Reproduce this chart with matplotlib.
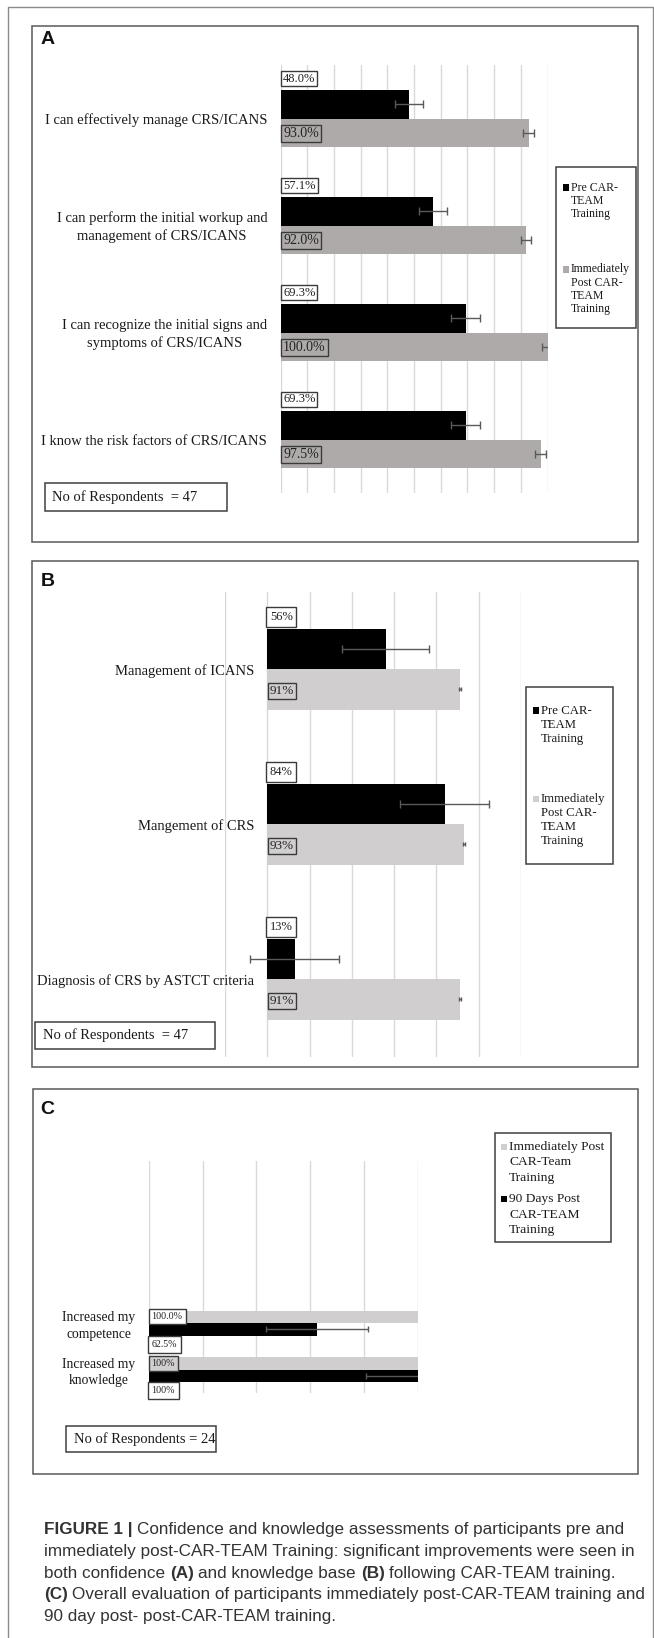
import matplotlib.pyplot as plt
from matplotlib.patches import Rectangle
import numpy as np

# Figure size in pixels (dpi 100)
W, H = 654, 1638

SERIF = ["Liberation Serif", "DejaVu Serif"]
SANS = ["Liberation Sans", "DejaVu Sans"]

BLACK = "#000000"
GRAY_A = "#AEAAAA"
GRAY_B = "#D0CECE"
ERR = "#595959"
EDGE = "#3a3a3a"
INK = "#1a1a1a"

# Panel A: confidence
a_items = ["I can effectively manage CRS/ICANS",
           "I can perform the initial workup and\nmanagement of CRS/ICANS",
           "I can recognize the initial signs and\nsymptoms of CRS/ICANS",
           "I know the risk factors of CRS/ICANS"]
a_pre = [48.0, 57.1, 69.3, 69.3]
a_pre_err = [5.3, 5.4, 5.5, 5.5]
a_post = [93.0, 92.0, 100.0, 97.5]
a_post_err = [2.0, 2.0, 2.0, 2.0]

# Panel B: knowledge
b_items = ["Management of ICANS", "Mangement of CRS",
           "Diagnosis of CRS by ASTCT criteria"]
b_pre = [56, 84, 13]
b_pre_err = [20.7, 21.0, 21.0]
b_post = [91, 93, 91]
b_post_err = [0.5, 0.5, 0.5]

# Panel C: overall evaluation
c_items = ["Increased my\ncompetence", "Increased my\nknowledge"]
c_post = [100.0, 100.0]
c_post_text = ["100.0%", "100%"]
c_90 = [62.5, 100.0]
c_90_err = [19.0, 19.0]
c_90_text = ["62.5%", "100%"]

legend_a = ["Pre CAR-\nTEAM\nTraining", "Immediately\nPost CAR-\nTEAM\nTraining"]
legend_c = ["Immediately Post\nCAR-Team\nTraining", "90 Days Post\nCAR-TEAM\nTraining"]

fig = plt.figure(figsize=(W / 100, H / 100), dpi=100)

# full-figure overlay in pixel units for frames, legends and caption
ov = fig.add_axes([0, 0, 1, 1], zorder=5)
ov.set_xlim(0, W)
ov.set_ylim(H, 0)
ov.axis("off")


def px_axes(x0, y0, x1, y1):
    ax = fig.add_axes([x0 / W, 1 - y1 / H, (x1 - x0) / W, (y1 - y0) / H])
    ax.patch.set_alpha(0)
    for s in ax.spines.values():
        s.set_visible(False)
    ax.tick_params(length=0, labelbottom=False, labelleft=False)
    ax.set_yticks([])
    ax.xaxis.grid(True, color="#d9d9d9", lw=1)
    ax.set_axisbelow(True)
    return ax


def tag(ax, y, text, dy, size, fc, pad=0.15):
    ax.annotate(text, xy=(0, y), xytext=(2.5, dy), textcoords="offset pixels",
                ha="left", va="center", fontsize=size, family=SERIF, color="#222222",
                bbox=dict(boxstyle=f"square,pad={pad}", fc=fc, ec=EDGE, lw=1),
                annotation_clip=False, zorder=4)


def item_label(ax, y, text, size, dx=-13.5, spacing=1.4, dy=-2):
    ax.annotate(text, xy=(0, y), xytext=(dx, dy), textcoords="offset pixels",
                ha="right", va="center", multialignment="center", fontsize=size,
                linespacing=spacing, family=SERIF, color=INK, annotation_clip=False)


def frame(x0, y0, x1, y1, lw=1.1, ec="#595959", fc="none"):
    ov.add_patch(Rectangle((x0, y0), x1 - x0, y1 - y0, fc=fc, ec=ec, lw=lw))


def legend_box(x0, y0, x1, y1, entries, size, step, sq):
    frame(x0, y0, x1, y1, lw=1.1, ec="#404040", fc="white")
    for color, label, ty in entries:
        ov.add_patch(Rectangle((x0 + 6.5, ty - sq / 2), sq, sq, fc=color, ec="none"))
        for k, line in enumerate(label.split("\n")):
            ov.text(x0 + 8.5 + sq, ty + k * step, line, fontsize=size, family=SERIF,
                    color=INK, ha="left", va="center")


def count_box(x0, y0, x1, y1, text, size):
    frame(x0, y0, x1, y1, lw=1.1, ec="#404040", fc="white")
    ov.text(x0 + 8, (y0 + y1) / 2, text, fontsize=size, family=SERIF, color=INK,
            ha="left", va="center")


def panel_letter(x, y, s):
    ov.text(x, y, s, fontsize=14, family=SANS, weight="bold", color="#111111",
            ha="left", va="center")


# outer frame
ov.plot([7.5, 7.5, 652.5, 652.5], [H, 7, 7, H], color="#8a8a8a", lw=1)

# ---------------- Panel A ----------------
frame(32, 26, 638, 541.5)
panel_letter(41, 39, "A")
ax = px_axes(280.7, 65, 547.5, 493)
ax.set_xlim(0, 100)
ax.set_ylim(3.5, -0.5)
ax.set_xticks(np.arange(0, 101, 10))
ya = np.arange(len(a_items))
h = 0.266
ax.barh(ya - h / 2, a_pre, height=h, color=BLACK)
ax.barh(ya + h / 2, a_post, height=h, color=GRAY_A)
ax.errorbar(a_pre, ya - h / 2, xerr=a_pre_err, fmt="none", ecolor=ERR,
            elinewidth=1, capsize=2.8, capthick=1)
ax.errorbar(a_post, ya + h / 2, xerr=a_post_err, fmt="none", ecolor=ERR,
            elinewidth=1, capsize=2.8, capthick=1)
for i in ya:
    tag(ax, i, f"{a_pre[i]:.1f}%", 40, 9, "white")
    tag(ax, i, f"{a_post[i]:.1f}%", -14.8, 10, GRAY_A)
    item_label(ax, i, a_items[i], 10.5)
legend_box(556, 167, 636, 328,
           [(BLACK, legend_a[0], 187.7), (GRAY_A, legend_a[1], 269.3)],
           8.5, 13.3, 6.5)
count_box(44.5, 483, 226.5, 511, "No of Respondents  = 47", 10.5)

# ---------------- Panel B ----------------
frame(32, 560.7, 638, 1066.7)
panel_letter(41, 582, "B")
ax = px_axes(225, 591.7, 521, 1056.7)
ax.set_xlim(-20, 120)
ax.set_ylim(2.5, -0.5)
ax.set_xticks(np.arange(-20, 121, 20))
yb = np.arange(len(b_items))
h = 0.261
ax.barh(yb - h / 2, b_pre, height=h, color=BLACK)
ax.barh(yb + h / 2, b_post, height=h, color=GRAY_B)
ax.errorbar(b_pre, yb - h / 2, xerr=b_pre_err, fmt="none", ecolor=ERR,
            elinewidth=1, capsize=2.8, capthick=1)
ax.errorbar(b_post, yb + h / 2, xerr=b_post_err, fmt="none", ecolor=ERR,
            elinewidth=1, capsize=1.5, capthick=1)
for i in yb:
    tag(ax, i, f"{b_pre[i]}%", 52, 9, "white", pad=0.3)
    tag(ax, i, f"{b_post[i]}%", -22, 9.5, GRAY_B, pad=0.15)
    item_label(ax, i, b_items[i], 10.5, dx=-13)
legend_box(526, 687.3, 613.3, 864.3,
           [(BLACK, legend_a[0], 710.7), (GRAY_B, legend_a[1], 798.8)],
           9.2, 14.2, 6.5)
count_box(35, 1022, 215, 1049, "No of Respondents  = 47", 10.5)

# ---------------- Panel C ----------------
frame(33, 1089, 638, 1474.3)
panel_letter(40, 1110, "C")
ax = px_axes(149, 1161, 417.5, 1392.7)
ax.set_xlim(0, 100)
ax.set_ylim(1.5, -3.5)
ax.set_xticks(np.arange(0, 101, 20))
yc = np.arange(len(c_items))
h = 0.27
ax.barh(yc - h / 2, c_post, height=h, color=GRAY_B)
ax.barh(yc + h / 2, c_90, height=h, color=BLACK)
ax.errorbar(c_90, yc + h / 2, xerr=c_90_err, fmt="none", ecolor=ERR,
            elinewidth=1, capsize=2.2, capthick=1)
c_tag_fill = ["white", GRAY_B]
for i in yc:
    tag(ax, i, c_post_text[i], 6.3, 7.2, c_tag_fill[i], pad=0.3)
    tag(ax, i, c_90_text[i], -21, 7.2, "white", pad=0.4)
    item_label(ax, i, c_items[i], 9.8, dx=-13.4, spacing=1.35, dy=-3)
legend_box(494.5, 1133, 611, 1242,
           [(GRAY_B, legend_c[0], 1146.7), (BLACK, legend_c[1], 1199.3)],
           9.7, 15.4, 6)
count_box(66, 1426, 216, 1452, "No of Respondents = 24", 10.5)

# ---------------- Caption ----------------
caption = [
    [("FIGURE 1 |", True), ("Confidence and knowledge assessments of participants pre and", False)],
    [("immediately post-CAR-TEAM Training: significant improvements were seen in", False)],
    [("both confidence", False), ("(A)", True), ("and knowledge base", False), ("(B)", True),
     ("following CAR-TEAM training.", False)],
    [("(C)", True), ("Overall evaluation of participants immediately post-CAR-TEAM training and", False)],
    [("90 day post- post-CAR-TEAM training.", False)],
]
renderer = fig.canvas.get_renderer()


def text_width(s, weight, size):
    t = ov.text(0, 0, s, fontsize=size, family=SANS, weight=weight)
    w = t.get_window_extent(renderer).width
    t.remove()
    return w


cap_size = 12.3
for row, parts in enumerate(caption):
    x = 43.8
    y = 1529.5 + row * 21.8
    for s, bold in parts:
        wt = "bold" if bold else "normal"
        t = ov.text(x, y, s, fontsize=cap_size, family=SANS, weight=wt,
                    color="#333333", ha="left", va="center")
        x += t.get_window_extent(renderer).width
        x += text_width("a a", wt, cap_size) - text_width("aa", wt, cap_size)

fig.savefig("out.png", dpi=100)
